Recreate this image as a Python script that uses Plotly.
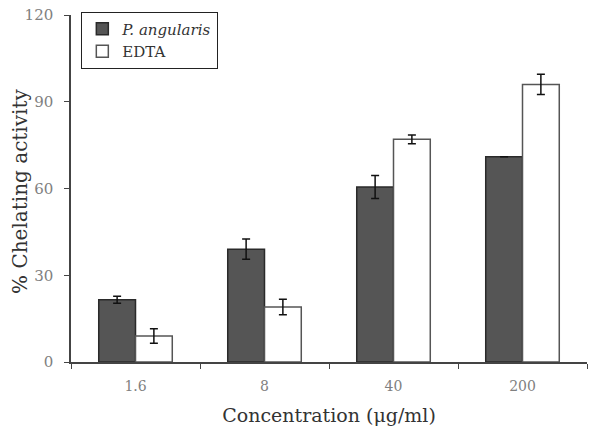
import plotly.graph_objects as go

categories = ["1.6", "8", "40", "200"]
p_ang = [21.5, 39, 60.5, 71]
p_ang_err = [1.2, 3.5, 4.0, float("nan")]
edta = [9, 19, 77, 96]
edta_err = [2.5, 2.7, 1.5, 3.5]

serif = "DejaVu Serif, Liberation Serif, serif"

fig = go.Figure()
fig.add_trace(go.Bar(
    x=categories, y=p_ang, name="<i>P. angularis</i>",
    marker=dict(color="#555555", line=dict(color="#2a2a2a", width=1.5)),
    error_y=dict(type="data", array=p_ang_err, color="#111111", thickness=1.5, width=4,
                 visible=True),
))
fig.add_trace(go.Bar(
    x=categories, y=edta, name="EDTA",
    marker=dict(color="#ffffff", line=dict(color="#555555", width=1.5)),
    error_y=dict(type="data", array=edta_err, color="#111111", thickness=1.5, width=4),
))

fig.update_layout(
    width=593, height=430,
    margin=dict(l=71, r=6, t=8, b=68),
    paper_bgcolor="white", plot_bgcolor="white",
    barmode="group", bargap=0.43, bargroupgap=0,
    showlegend=True,
    legend=dict(x=0.02, y=1.01, xanchor="left", yanchor="top",
                bordercolor="#222222", borderwidth=1, bgcolor="white",
                font=dict(family=serif, size=15, color="#333333"),
                itemwidth=30, tracegroupgap=2),
    font=dict(family=serif),
    annotations=[dict(
        text="% Chelating activity", textangle=-90,
        xref="paper", yref="paper", x=-51/516, y=0.49,
        xanchor="center", yanchor="middle", showarrow=False,
        font=dict(family=serif, size=20, color="#333333"),
    )],
)
fig.update_xaxes(
    showline=True, linecolor="#444444", linewidth=1.5,
    ticks="outside", tickson="boundaries", ticklen=5, tickcolor="#444444",
    ticklabelstandoff=10,
    tickfont=dict(family=serif, size=14, color="#808080"),
    title=dict(text="Concentration (μg/ml)", font=dict(family=serif, size=19, color="#333333"),
               standoff=16),
    showgrid=False,
)
fig.update_yaxes(
    range=[0, 120], dtick=30, showline=True, linecolor="#444444", linewidth=1.5,
    ticks="outside", ticklen=5, tickcolor="#444444",
    ticklabelstandoff=8,
    tickfont=dict(family=serif, size=15, color="#808080"),
    showgrid=False, zeroline=False,
)

fig.write_html("out.html")
